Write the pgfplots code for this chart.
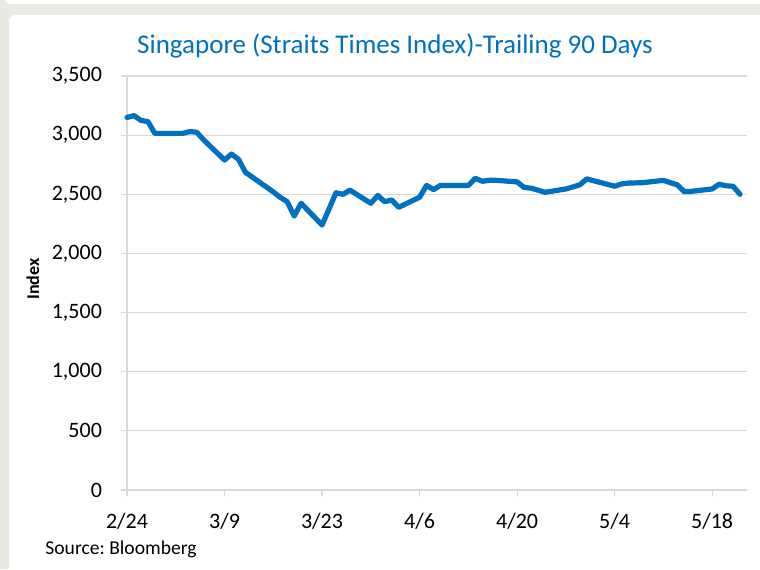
\documentclass[border=0pt]{standalone}
\usepackage{pgfplots}
\pgfplotsset{compat=1.18}
\usepackage{fontspec}
\setmainfont{Carlito}
\frenchspacing
\definecolor{bggray}{RGB}{233,232,227}
\definecolor{lineblue}{RGB}{0,112,192}
\definecolor{titleblue}{RGB}{0,112,192}
\definecolor{gridgray}{RGB}{217,217,217}
\begin{document}
\begin{tikzpicture}
\useasboundingbox (0,0) rectangle (380pt,284.5pt);
\fill[bggray] (0,0) rectangle (380pt,284.5pt);
\fill[white, rounded corners=3pt] (4.5pt,-10pt) rectangle (395pt,277pt);
\fill[white, rounded corners=3pt] (2.5pt,282.5pt) rectangle (395pt,300pt);
\begin{axis}[
  at={(63.5pt,39.5pt)}, anchor=south west,
  scale only axis, width=310pt, height=207pt,
  xmin=0, xmax=89, ymin=0, ymax=3500,
  axis x line=bottom, axis y line=left,
  axis line style={-, gridgray, line width=0.7pt},
  xtick={0,14,28,42,56,70,84},
  xticklabels={2/24,3/9,3/23,4/6,4/20,5/4,5/18},
  ytick={0,500,1000,1500,2000,2500,3000,3500},
  ymajorgrids, grid style={gridgray, line width=0.6pt},
  tick align=outside, major tick length=3pt,
  tick style={gridgray, line width=0.6pt},
  /pgf/number format/assume math mode=true,
  /pgf/number format/1000 sep={,},
  tick label style={font=\fontsize{11}{13}\selectfont},
  yticklabel style={anchor=east, xshift=-6pt},
  xticklabel style={anchor=north, yshift=-5pt},
  clip=false,
]
\addplot[color=lineblue, line width=2.6pt, line join=round, line cap=round] table {
0 3150
1 3165
2 3125
3 3115
4 3015
7 3015
8 3015
9 3030
10 3025
11 2960
14 2790
15 2840
16 2796
17 2686
18 2645
21 2520
22 2474
23 2437
24 2316
25 2424
28 2240
29 2376
30 2513
31 2500
32 2535
35 2424
36 2490
37 2437
38 2452
39 2390
42 2475
43 2575
44 2540
45 2575
49 2575
50 2635
51 2610
52 2618
53 2618
56 2605
57 2558
58 2552
59 2535
60 2517
63 2545
64 2562
65 2580
66 2630
70 2568
71 2588
72 2595
74 2598
77 2618
78 2598
79 2580
80 2522
81 2525
84 2545
85 2585
86 2572
87 2568
88 2500
};
\end{axis}
\node[font=\fontsize{13.5}{16}\selectfont, text=titleblue] at (197.5pt,261.5pt) {Singapore (Straits Times Index)-Trailing 90 Days};
\node[font=\fontsize{9}{11}\selectfont\bfseries, rotate=90] at (16.5pt,145pt) {Index};
\node[font=\fontsize{9.8}{12}\selectfont, anchor=west, inner sep=0pt] at (22.5pt,10pt) {Source: Bloomberg};
\end{tikzpicture}
\end{document}
